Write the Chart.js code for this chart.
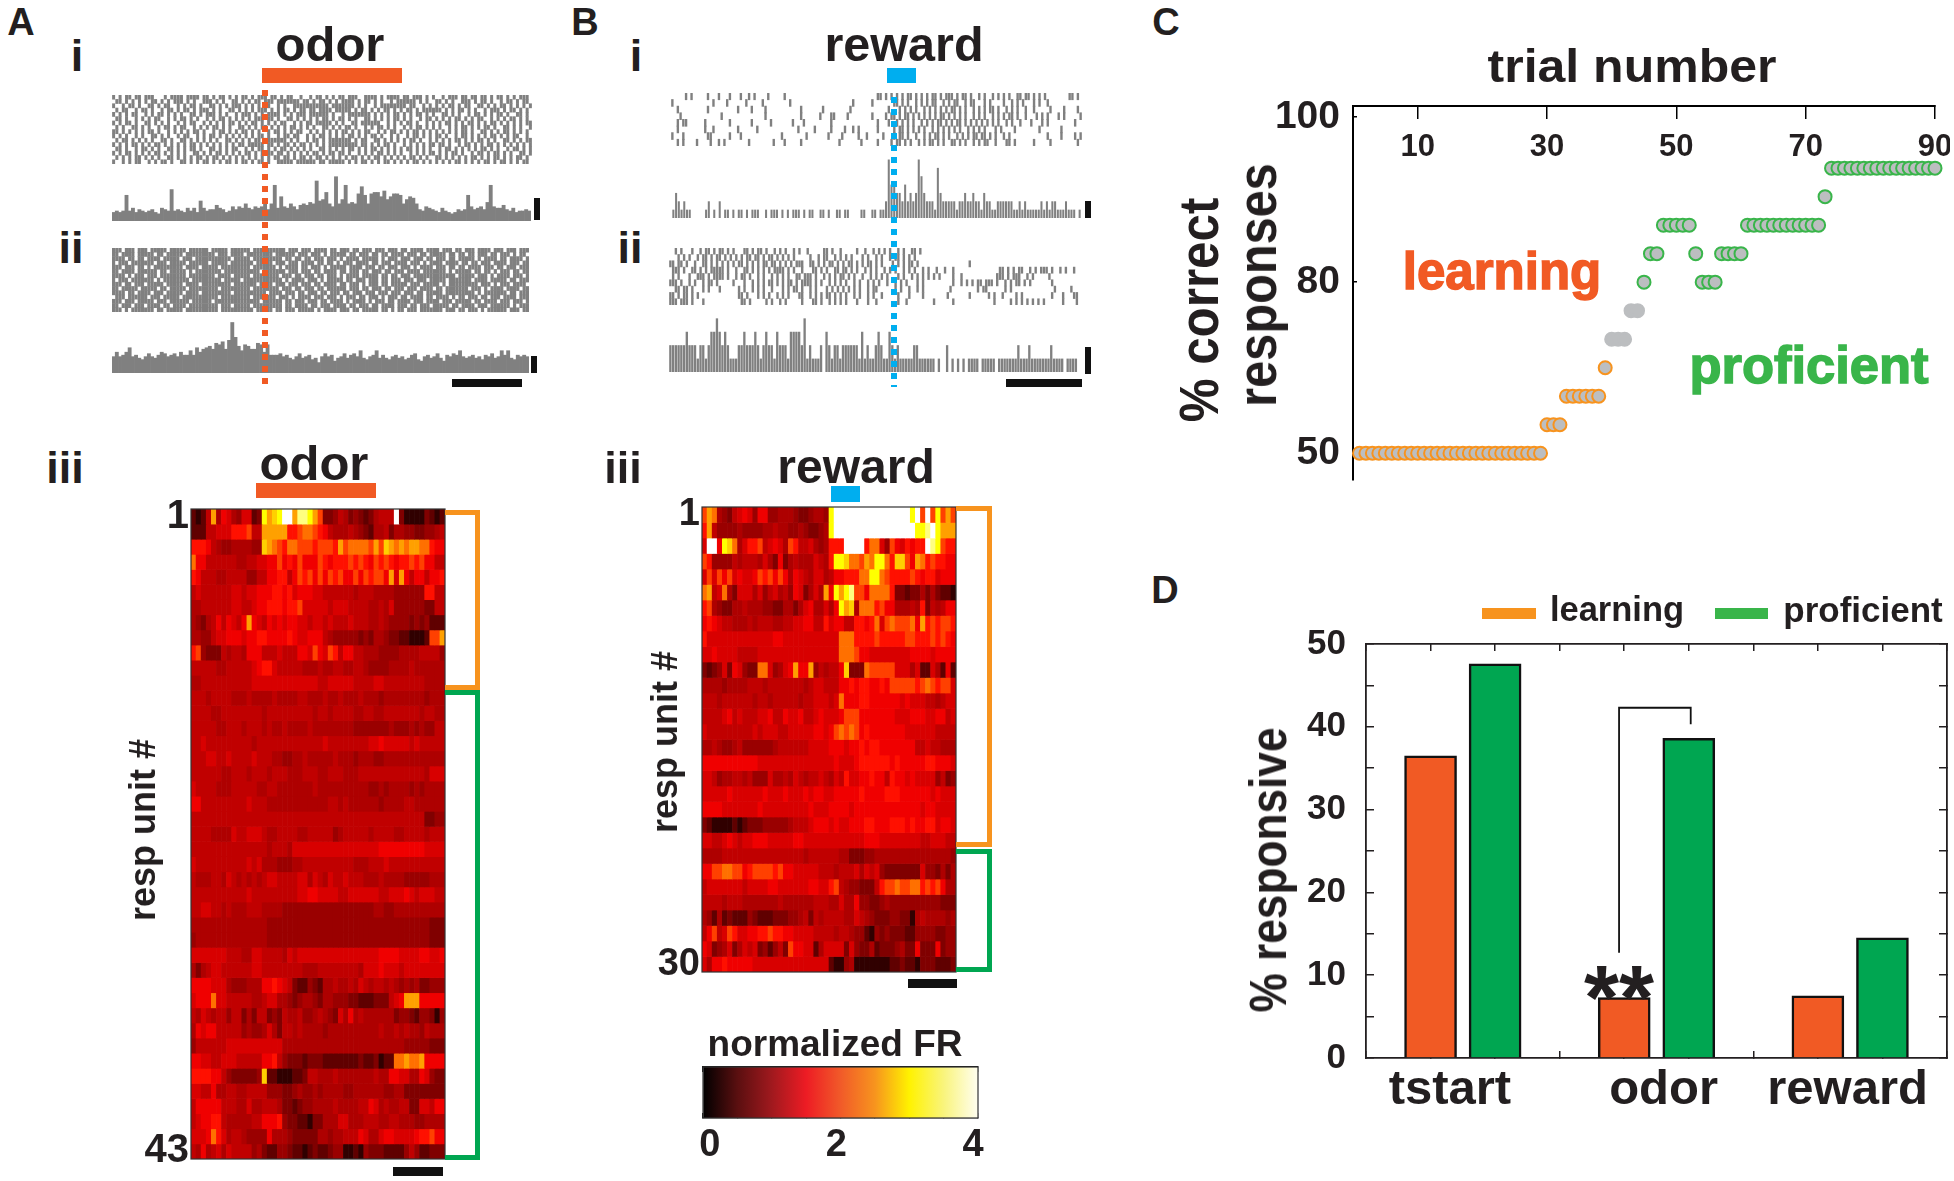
<!DOCTYPE html>
<html>
<head>
<meta charset="utf-8">
<title>Responses during learning</title>
<script src="https://cdn.jsdelivr.net/npm/chart.js@4/dist/chart.umd.min.js"></script>
<style>
  html, body { margin: 0; background: #fff; }
  #page { position: relative; width: 1954px; height: 1181px; overflow: hidden; }
  #page canvas { position: absolute; }
  .lbl { position: absolute; white-space: nowrap; line-height: 1; font-family: "Liberation Sans", Arial, sans-serif; font-weight: 700; color: #231f20; }
  .box { position: absolute; }
</style>
</head>
<body>
<div id="page"></div>
<script>
// ---- panel C: behaviour ----
const trialTicks = [10, 30, 50, 70, 90];
const pctTicks = [50, 80, 109];
const pctTickLabels = ['50', '80', '100'];
const learningTrials = [1,2,3,4,5,6,7,8,9,10,11,12,13,14,15,16,17,18,19,20,21,22,23,24,25,26,27,28,29,30,31,32,33,34,35,36,37,38,39];
const learningPct = [50,50,50,50,50,50,50,50,50,50,50,50,50,50,50,50,50,50,50,50,50,50,50,50,50,50,50,50,50,55,55,55,60,60,60,60,60,60,65];
const middleTrials = [40,41,42,43,44];
const middlePct = [70,70,70,75,75];
const proficientTrials = [45,46,47,48,49,50,51,52,53,54,55,56,57,58,59,60,61,62,63,64,65,66,67,68,69,70,71,72,73,74,75,76,77,78,79,80,81,82,83,84,85,86,87,88,89,90];
const proficientPct = [80,85,85,90,90,90,90,90,85,80,80,80,85,85,85,85,90,90,90,90,90,90,90,90,90,90,90,90,95,100,100,100,100,100,100,100,100,100,100,100,100,100,100,100,100,100];

// ---- panel D: % responsive ----
const barSlotsOrange = [1, 4, 7];
const barSlotsGreen = [2, 5, 8];
const learningResp = [36.5, 7.3, 7.5];
const proficientResp = [47.6, 38.6, 14.5];
const epochNames = ['tstart', 'odor', 'reward'];
const epochLabelSlots = [1.3, 4.61, 7.46];
const sigBracketX = [3.92, 3.92, 5.03, 5.03];
const sigBracketY = [12.7, 42.3, 42.3, 40.3];

// ---- heat maps: one char per bin, 0..g = normalized FR in 0.25 steps ----
const heatColors = ['#000000','#300000','#600000','#800000','#9a0000','#ae0000','#c00000','#d80000','#f00000','#ff1000','#ff4000','#ff7000','#ffa000','#ffd000','#ffff00','#ffff80','#ffffff'];
const odorHeat = [
"2126c58754 7723ecdegg cffeca3346 5343235666 g311113212",
"2226677799 9a66ccccc9 9abba98655 5654325563 5544334456",
"9998654455 5544dcba9b baaa9aaa9c abbbbacadc bcbccbb988",
"b886666665 5667788a89 8a888a9899 9a9a98a9a9 899a9a8866",
"9866655666 6446688996 8a9a8a8a9a 88a8a9aa8c 7c86886889",
"6766666677 6778889989 7888776666 6656665555 4444449966",
"5566666677 6678899989 9a77777677 7666655657 4444443366",
"5435686876 8c87687878 8776776766 6766655654 4443434222",
"5544677888 7889988889 8778886544 4443435543 3221112aac",
"9a43336566 5888666766 6887a87a96 8866555444 4555566664",
"6666655666 6678997666 6655565566 5566544445 5556555555",
"5566666666 6677777777 7777766777 7766667766 6666665555",
"6665666655 5655556555 5665556556 5556555455 5555554555",
"6666556666 6666566666 6666566566 6655665566 6666656655",
"6666655666 5666565565 5556555555 5544444445 4445454466",
"6676666666 6656666666 6666667666 6666677877 7776766666",
"6667766766 6676665544 5565555565 5545554455 5555555555",
"6666665566 6566656665 5566655666 5556666666 6666665777",
"7666655566 6665566555 5555655555 5555544545 5554545555",
"8866666666 6766655555 5555555665 6555555455 5566555555",
"6666666666 6666666666 6666666666 6666666666 6666663344",
"6666555576 6777655666 6556666645 6666656666 5566665666",
"6666666666 6666656665 7777777777 7777777888 8888887777",
"7666666666 6767555444 5566666666 6655566676 6666666666",
"6555665765 6565677666 6775765766 7666555655 5544444555",
"6666666666 6766666666 6778877776 6777777667 7787677766",
"6677665655 5666555544 4444444444 4444445544 5555555555",
"5555555555 5555544444 4444444444 4444444444 4444444333",
"4555555555 5555544444 4444444444 4444444444 4444444333",
"7777777666 5577666657 6777777777 7777777888 8777788778",
"5356776666 6677666666 6655566666 6665777877 7677777777",
"8888777544 4555889876 3224325565 5657656656 5454533444",
"7888b77666 6655677554 3455435544 4332223336 78ccc88888",
"6576566466 3536634365 5644565437 5856555555 3443244314",
"5878866666 4544575366 5655554555 5555555655 6565546555",
"4666666777 7777777755 5555555555 5555555555 5544444333",
"8877667776 6666889643 3323332222 2223223122 bbcbbc8888",
"9999886433 3334d22111 2236655565 5555556558 8775587433",
"7766855665 5666644433 4544545555 4455555544 5533333333",
"6888886665 5755666533 2344555565 5556687565 5663377688",
"6788996555 5566888943 3221335557 7555666556 6555445555",
"7778b97566 5444485554 3333355455 6668755788 7777899a88",
"6585675766 6645322443 2212322344 1121433322 2246422333"
];
const rewardHeat = [
"acb5436787 4884455543 34554egggg gggggggggg gegagaeaca",
"9c64444544 4455655445 43345egggg gggggggggg ggeefgeccc",
"7gg8edb579 9a67875a96 67545999gg gg9bb74a87 9899gfea99",
"a944446566 6575383565 557659eedb bacbeeb9dd a8cb9a9988",
"7a7a8a7877 8a9a8a8587 6577568899 9bbeeba999 9a98997888",
"bc67b53777 5746756487 3575c8ecef aa8bbbb933 2335353221",
"9a54335565 5544335535 7855758ecd 5bbb9a8855 5659365688",
"8987665556 5666556677 8866978866 9989b7abaa ab8c9a9aa9",
"9777777777 7777887777 7777777bbb 9999a99999 aa999a9a98",
"7787777666 6777777777 7777777bbb a887777777 7888878888",
"3234738743 3bb74578c8 8c465668d3 33baaaaa77 7572275282",
"5555455556 6656666666 5677666889 8998898aaa aa9aba9aa7",
"6665666666 5665666665 6677767b88 8998888887 8777665677",
"6666786766 6778668778 66787778aa a888888877 7888778867",
"7666666666 7677766777 778878abab a898888888 7777776666",
"5565445644 4444566666 6777788878 8989988888 8866766555",
"8888888888 8777777777 7777778777 8999999898 8888998887",
"7764556656 4447556576 5667657697 7889886988 7877774634",
"7777787777 7787778777 8788778888 8988889998 8888878777",
"8888777777 7877777777 7877788887 8888888888 8887887777",
"3211112123 3344444566 6788878778 8899888999 8988997887",
"7766787677 8887777788 7777777777 7788877777 7776677766",
"5555666666 6666666666 5666666553 3344555555 5555555554",
"88aabbaa89 aaaa9a8877 7776665666 7576743333 3337443535",
"6777777767 7778877777 788779a654 433369aaba abb9a9a855",
"6666566655 5555565555 5566655755 8443345444 4444444333",
"5425232224 3222333445 6365666655 7654333443 3156555545",
"68a67a9778 899a998877 7766665665 4421434333 2244443344",
"8734573576 7342463a88 7725777737 4335233345 3383338344",
"7588988888 7777777777 7777721145 1111111223 2213332223"
];
const odorUnitTicks = [0.5, 42.5];
const odorUnitLabels = ['1', '43'];
const rewardUnitTicks = [0.5, 29.5];
const rewardUnitLabels = ['1', '30'];
const colorbarStops = ['#000000','#5a0f10','#a0191e','#ed1c24','#f15a29','#f7941e','#fff200','#f9f47c','#fffef0'];
const colorbarLabelAt = [0.1, 1.94, 3.93];
const colorbarLabels = ['0', '2', '4'];

// ---- raster plots: one row per trial, # = a spike in that time bin ----
const odorRasterI = [
"#.#.##.##. ###...#.## ##.####.## .#.##.#.#. ##.#.###.# #.#.##..#. .#.##.#.#. ##.###..## ##.#.####. ##.###.#.# ..#.###.## .##.##.#.# #.#.#.###.",
".##.#.#.#. #.##.#.#.# ##.#.#..## #.#.#..##. #.#.##.### .#######.# #.#.##.#.# .####.#.## .#.#..#.## ####.#.#.. ##.#.#..## #.#.##.#.. #.##.#.##.",
"#..#.##.#. .##.#.##.. #.#.##.#.. ##.#.#.### .#.#.#.##. .#.#..#### #######.## #####.#.#. .#.####### #.##..#.#. #.#.##.#.# #..##.#.#. ##.#.#.#.#",
".#.##..#.# #.#..#.##. #.##.#.### .#.#..##.# .#.#.###.# .#.##.#.## .##.####.# ####.#.##. #.#.##.#.# .##.#.#### ##.#.#.##. #.#..#.### .#.##.#.#.",
"#.#.#.##.. #.#.##.#.# .#..##.#.# ##.#.#..#. ###.#.#.## ##.#.#.### .######.#. .#.####### .#.#.#.##. #.#.##.#.# ..##.#.#.. #.##.#.#.# #.#..##.#.",
".##.#..#.# .#.##..#.# .##.#.#..# .#.##.#.#. #.#.###.## .#..##.#.# .#.#.##.#. ##.#.#..## .#.#.#.##. #.#..#.##. #.#.#.##.# .#.##..#.# .#.##.#.#.",
"#.#.##.#.. ##.#.#.#.. #.#.##..#. #.#.#.##.# .#.##.#.#. #.##..#.#. ##.#####.# .#..##.### ###..#.#.# .##.#..#.# .#.##.#.#. ##.#.#.##. #.#.#.#.##",
".#.#..##.# .#..#.##.# .##..#.#.# .##.#.#..# #.#.#.##.# .#.#.##.#. #.#..##.#. #.##.#..#. #.##.#.#.. #.#.##.#.# .#..#.#.## .#.#.##.#. .##.#.#..#",
"##.#.#.#.# .##.#..#.# .#.#.##.#. .#.##.#.#. ##.#.#..#. ##.#.#.##. .#.#.#.#.# .##.#.#.## ..#.#.##.# .#.##.#.#. #.#.#.#.## .#..##.#.# .##.#.#.#.",
"#.#.#..#.# ..##.#.#.. #.##..#.#. ##.#.#.#.# .#.#.##.#. .#.##.##.. #.#.##.#.# .#.##.#.#. ##.#..#.#. .#.##.#.#. ##.#..#.## .#.#.#.##. #.#.##..#.",
".#.##.#.#. #.#..##.#. .##.#.#.#. #.#..##.#. #.#.##.### ####.#.#.. #.##.#.### ####.#.##. .##.#.#.#. #.##.#..#. #.#.#.##.# .#.##.#.#. .##.#.#.##",
"#.#.#.##.# .#.##.#.#. #.#.##.#.# .#.#.#.#.# #.#####.## .#.##.#.## .#.#.#.### ######.##. #.#.##.#.. #.#.#.#.## .##.#..#.# #.#.#.##.# .#.#.#.#.#",
".##.#..#.# #.#.#..##. #.#.##.#.. ##.#.#.##. .#.#.##.#. #.##.#.#.# .#..##.#.# .#.##.#.#. ##.#.#.#.# .##.#.#.#. .#.##.#.#. #.#.##.#.# ..#.##.#.#",
"#.#.##.#.# .#.##.#.#. #.#..##.#. #.##.#.#.# .##.#.#.## .##.#.#.#. #.##.#.##. ##.#..#.#. #.##.#.#.# ..#.#.#.## .#.#.##.#. .#.##.#.## .#.#..##.#",
".#.#.#.##. #.#.#..##. #.#.#.##.# .##.#.#.#. #.#.#.#.#. ##.##.#.## .#.##.#.#. #.#.##.#.# .##.#.#.#. #.##.#.#.. ##.#.#.#.# .##.#.#.## .#.#.##.#.",
"#..#.#.##. .#.#.##.#. .##.#.#.## .#.#.##.#. ##.#.##.#. .#####.### ###.##.### ##.#.#.##. #.#.##.#.# .#.##.#.#. #.#.#.##.# .#.#.##.#. ##.#.#.##."
];
const odorRasterII = [
"###.###.## #.#####.## ###.###### .#####.### ###.###### ####.###.# ##.####.## .###.##.## #.###.###. ##.####.## ##.###.##. ###.####.# ##.###.###",
"##.####.## ###.##.### ##.####### ##.###.### #.######## .######.## #.###.#.## ###.##.### .##.##.### #.###.##.# ####.##.## .##.###.## .###.#.##.",
"####.##.## .####.#### #.###.#### #######.## ###.###### ###.##.##. ##.###.### .#.####.## ###.#.###. ###.###.## .###.##.## ###.#.#### .##.####.#",
"#.###.#### ###.###.## ###.###### .#####.### ####.##### .###.###.# ###.##.##. #.###.#### .##.###.## ##.###.#.# ###.####.# #.##.###.# ###.###.##",
"###.###.## .#.####### ##.####.## ###.###### ###.###### #.#.####.# #.###.#.## ###.####.# ##.##.###. ###.#.#### .###.##.## .####.###. ##.###.###",
"##.####.## ####.##.## ###.#.#### ####.##### ######.### ####.###.# ##.##.#### .##.###.## .###.##.## #.####.### ####.#.### ##.##.##.# .###.##.##",
"####.#.### .###.##### ###.###### ##.####.## ###.###### ##.###.##. ###.##.### .#.####.## ###.##.##. ###.###### #######.## ###.###.#. ####.###.#",
"#.###.#### ###.#.#### ####.##### ####.##### .######### ###.#.#### .###.#.### ##.##.###. ###.##.### .###.###.# ####.##### ##.####.## ###.##.###",
"###.##.### .#####.### ##.####.## #######.## #####.#### .###.###.# ##.##.#### .##.###.#. ###.##.### ##.###.### ##.#.##### ####.###.# .###.####.",
"##.#####.# ####.##.## ###.###### ###.###### ###.###### ##.###.##. ###.##.### ###.###.## .###.##.## #.###.#### .##.###### #.###.#.## ##.####.##",
"####.##.## ##.###.### ##.####.## #######.## ########.# ###.###.## .###.##.## #.##.###.# ##.###.### .###.##.## ###.###### ###.#.#### ###.##.###",
".###.##### #.###.#### #.######## ###.###### ###.###### #.###.#.## ##.###.### .#.###.##. ###.#.###. ##.####.## .####.#.## .###.##.## #.####.###",
"###.###.## ###.###.## ####.##### #.######## ######.### ###.##.### .###.##.## ##.#.####. #.###.##.# ###.###.## ##.###.### ##.##.#### .###.###.#",
"##.###.### .####.##.# ###.###### ###.###.## ###.###### ###.##.### #.##.###.# ###.##.### .##.####.# ##.##.###. #####.##.# ###.###.## ####.#.###",
"###.#.#### ###.##.### ##.####### ###.###### ####.##### .##.###.## ###.#.#### .###.##.## ###.##.#.# #.###.#### ###.###.## .###.#.#### ##.###.###"
];
const rewardRasterI = [
".....#.#.. ...#...#.. .#...#..#. #....#.... .#........ .......... .......... .....##.#. #.#.#.##.# .#.#.##.#. ###.#.##.# ..#.#..#.# .#.#..##.# #.#.#.#... .....##.#.",
"#......... .....#.... #......#.. ...#...... ...#...... .......... ......#... ...#...... .##.#.#..# .#.#.##..# .#.##..#.# #...#.#... .#..#.#.#. ..#.#..#.. ..........",
"..#....... ...#...... ....#....# ....#..... .......#.. .....#.... .....#.... .........# ...#.#.#.# ..#.#.#.#. #.##.#.#.. #.#.#.##.# ..#.#.#..# ..#.....#. ...#....#.",
"...#...... ........#. .......... ....#..... .......#.. ....#...## ....#..... ...#....#. ##.#.##.#. #.#.#.#.## .#.#.#.#.. #.#.#..#.# .#.##.#..# ...#.#.#.. .#.#.....#",
"..#.##.... ..#....... .#.......# ......#... ....#...#. ........#. .......... .....#...# ..#.#.#.#. .#.#.#.##. #.#.##.#.# .#.#.#.#.# ..#.#..#.. .#...#.#.. .......#..",
"..#....... ..#..#.... ....#..... .#........ ......#... ..#.....#. ...#..#.#. .....#.... .#.##.#.#. #.#..#.#.# .#.#.#..#. #.#.#...#. #....#.... ....#..... ..#.......",
"#...#..... ...##..... .#...#.... .......... #........# .......#.. ..#.....#. .#.....#.. .#.##.#..# ..#.#.##.# .#..#.#.#. ##.##.#.#. .#.#...... .......#.. ..#....#.#",
"..#.#....# ....#..#.# ........#. .......#.. .#.....#.. .......... .#.......# .....#.... #.##.#.#.. #.#.##.#.# ..##.#.#.. #.#.##..#. ..##.#.... ..#.....#. ........#."
];
const rewardRasterII = [
"..#.#...#. .#.##.#.## .#.#...##. #.##.#..#. #.#..#.#.. #.....##.# ..#.....#. .#..#.#.#. #..#.#..## .#........ .......... .......... .......... .......... ..........",
"...#.#.#.. #.##.#.##. #.#.#.#.## .##.#.##.# .#.#.#.... .#..#.##.. #.#.#.#... #.#..#.#.. #.##.#.#.# .......... .......... .......... .......... .......... ..........",
"##.##.#..# ..##.#.#.# .#.#.##.#. #.#.##.##. #.#.#.###. .##.#.#.## .#.#.##.#. #.##.#.#.. .#.#.#.##. #......... .........# .......... .......... .......... ..........",
".###.#..## .#.#.##### .#..#..##. #.#.#.#.## ##.#.#..#. ..##.#.#.. ##.##.#.#. .#.#.#..#. #.#..#.#.# ..#.#..#.. #..#...... .......... ##.#.#.##. .#.#.###.# ..#.#..#..",
".#.#...#.. ###.#.#### .#..#.##.# ..#.#..#.# .#.#..##.# ##.#..#.#. #.##.#.#.. #..#.#.#.# ...#.#..#. #.#.#.#.#. ...#..#... .........# ##.#.###.. #.#.....#. ..........",
"###.#..#.# ..#.##.#.. ...#...#.. #.#.#.##.# .#.##.#.## ##.#.#..#. #.#.#..#.# ..#.#.#..# ..#.#.#... #.#....... ...#..#.#. #.##.###.# ..#.#.##.# .#.......# ..........",
"..##.##.#. ..#.#...#. .....#.#.. #.#.#..#.. .#.#.##.#. .#.#...#.# .#.#.#.#.# ..#.##.... ..#.#..#.. #.#....... ..#....... ..#.##.... ..#.#..... .......... #.....#...",
"##.#.##.#. #......... .....##.#. ..#.#.#..# .#.#...##. .#.#.#.##. #.#.#..#.# ..#.#..#.. ...#...#.. ..#....... .#.......# ......#.#. .#....#.#. .........# ...#...##.",
"###.###.#. ..#....... ......##.# .....#.#.. #.#.....#. ..##.#..#. #.#.#...#. ..#..#.... ...#..#... ......#... ...#...... ........#. ....#.#.#. #.#.#.#... ...#....#."
];

// ---- PSTHs below the rasters: one base-36 char per time bin ----
const odorHistI = "6767i79687 67865987m7 8769796e97 88b9867a8a 9c98a9af8c p9ha9ca8bc bdcsefkcav cfpcdcjoic jkkhlfhjji cfhgc87a98 7697656878 ia89a8dpa9 9b87967787";
const odorHistII = "bebcehbca9 bdbacedbcd beccfchegh igkjlgmyoi fjiggkjejc ccdbca9bda bc9a7bdbc8 abdacdbfa9 bcfaca9bca b9acd98bca bda8cbdcfb abcab9cbda bfcfa9cbcb";
const rewardHistI = "1321211000 0012010201 1010110101 1100101110 1010111010 1100110100 1101100001 1001101127 4433242323 7532221632 2222122322 3221322112 2222211212 1111121212 2111211101";
const rewardHistII = "2222223222 1221233432 3211122322 2321232213 2221333324 1211120321 2212222221 3121123211 3212111112 2111111010 0201010101 1110111110 1111111211 1211111112 1111011110";

const font = '"Liberation Sans", Arial, sans-serif';
const ink = '#231f20';
const red = '#f15a24', blue = '#00aeef', amber = '#f7931e', green = '#00a651', lime = '#39b54a', grey = '#808080';
Chart.defaults.font.family = font;
Chart.defaults.font.weight = 'bold';
Chart.defaults.color = ink;
Chart.defaults.animation = false;
Chart.defaults.layout.autoPadding = false;
Chart.defaults.plugins.legend.display = false;
Chart.defaults.plugins.tooltip.enabled = false;

const page = document.getElementById('page');

function addCanvas(x, y, w, h) {
    const c = document.createElement('canvas');
    c.width = w; c.height = h;
    c.style.left = x + 'px'; c.style.top = y + 'px';
    page.appendChild(c);
    return c;
}
function rect(x, y, w, h, color) {
    const d = document.createElement('div');
    d.className = 'box';
    d.style.cssText = `left:${x}px;top:${y}px;width:${w}px;height:${h}px;background:${color};`;
    page.appendChild(d);
    return d;
}
function dotted(x, y0, y1, color) {
    const d = rect(x, y0, 6, y1 - y0, 'transparent');
    d.style.background = `repeating-linear-gradient(to bottom, ${color} 0 6px, transparent 6px 12px)`;
    d.style.zIndex = 5;
}
function bracket(x, y, w, h, color) {
    const d = rect(x, y, w, h, 'transparent');
    d.style.boxSizing = 'border-box';
    d.style.borderStyle = 'solid';
    d.style.borderColor = color;
    d.style.borderWidth = '5px 5px 5px 0';
}
// cx,cy = middle of the text box
function label(text, cx, cy, size, opt) {
    const o = opt || {};
    const s = document.createElement('span');
    s.className = 'lbl';
    s.textContent = text;
    s.style.left = cx + 'px'; s.style.top = cy + 'px';
    s.style.fontSize = size + 'px';
    if (o.color) s.style.color = o.color;
    if (o.stroke) s.style.webkitTextStroke = o.stroke + 'px ' + (o.color || ink);
    s.style.transform = `translate(-50%,-50%) rotate(${o.rot || 0}deg) scale(${o.sx || 1},${o.sy || 1})`;
    s.style.zIndex = 6;
    page.appendChild(s);
}
// fixed axis sizes so the plot areas land where they should; tick labels must not add margins
function noMargins(scale) {
    scale.paddingTop = scale.paddingBottom = scale.paddingLeft = scale.paddingRight = 0;
}
const fixWidth = w => scale => { scale.width = w; noMargins(scale); };
const fixHeight = h => scale => { scale.height = h; noMargins(scale); };

// ===== RASTERS =====
function rasterChart(x, y, w, h, rows, cols, tickHalf, tickW) {
    const pts = [];
    rows.forEach((row, r) => {
        [...row.replace(/ /g, '')].forEach((ch, i) => { if (ch === '#') pts.push({ x: i, y: r }); });
    });
    const c = addCanvas(x, y, w, h);
    c.style.filter = 'blur(0.7px)';
    new Chart(c, {
        type: 'scatter',
        data: { datasets: [{ data: pts, pointStyle: 'line', rotation: 90, pointRadius: tickHalf, pointBorderWidth: tickW, pointBorderColor: grey }] },
        options: {
            responsive: false,
            scales: {
                x: { display: false, min: -0.5, max: cols - 0.5 },
                y: { display: false, reverse: true, min: -0.5, max: rows.length - 0.5 }
            }
        }
    });
}
rasterChart(112, 95, 420, 69, odorRasterI, 130, 2.4, 3);
rasterChart(112, 248, 417, 64, odorRasterII, 130, 2.4, 3.2);
rasterChart(671, 93, 411, 53, rewardRasterI, 150, 3.8, 2.4);
rasterChart(669, 248, 412, 57, rewardRasterII, 150, 3.4, 2.4);

// ===== PSTHs =====
function histChart(x, y, w, h, text, top, pct) {
    const vals = [...text.replace(/ /g, '')].map(ch => parseInt(ch, 36));
    const c = addCanvas(x, y, w, h);
    c.style.filter = 'blur(0.4px)';
    new Chart(c, {
        type: 'bar',
        data: { labels: vals.map((v, i) => i), datasets: [{ data: vals, backgroundColor: grey, barPercentage: pct, categoryPercentage: 1 }] },
        options: {
            responsive: false,
            scales: { x: { display: false }, y: { display: false, min: 0, max: top } }
        }
    });
}
histChart(112, 171, 419, 50, odorHistI, 35, 1);
histChart(112, 321, 417, 52, odorHistII, 35, 1);
histChart(672, 157, 409, 61, rewardHistI, 7.3, 0.75);
histChart(669, 317, 411, 55, rewardHistII, 4.1, 0.85);

// ===== HEAT MAPS =====
const framePlugin = {
    id: 'frame',
    afterDatasetsDraw(chart) {
        const a = chart.chartArea, ctx = chart.ctx;
        ctx.save();
        ctx.strokeStyle = '#333';
        ctx.lineWidth = 1.2;
        ctx.strokeRect(a.left, a.top, a.right - a.left, a.bottom - a.top);
        ctx.restore();
    }
};
function heatChart(x, y, w, h, rows, unitTicks, unitLabels, tickFont) {
    const cells = rows.map(r => [...r.replace(/ /g, '')]);
    const c = addCanvas(x - 60, y - 20, w + 62, h + 40);
    new Chart(c, {
        type: 'bar',
        data: {
            labels: cells[0].map((v, i) => i + 1),
            datasets: cells.map(row => ({
                data: row.map(() => 1),
                backgroundColor: row.map(ch => heatColors[parseInt(ch, 36)]),
                barPercentage: 1,
                categoryPercentage: 1
            }))
        },
        options: {
            responsive: false,
            layout: { padding: { top: 20, bottom: 20, right: 2 } },
            scales: {
                x: { display: false, stacked: true },
                y: {
                    stacked: true, reverse: true, min: 0, max: rows.length,
                    grid: { display: false }, border: { display: false },
                    afterBuildTicks: s => { s.ticks = unitTicks.map(v => ({ value: v })); },
                    afterFit: fixWidth(60),
                    ticks: { autoSkip: false, padding: -6, font: { size: tickFont, weight: 'bold' }, callback: v => unitLabels[unitTicks.indexOf(v)] }
                }
            }
        },
        plugins: [framePlugin]
    });
}
heatChart(191, 509, 254, 650, odorHeat, odorUnitTicks, odorUnitLabels, 40);
heatChart(702, 507, 254, 465, rewardHeat, rewardUnitTicks, rewardUnitLabels, 38);

// ===== COLOUR BAR =====
const barTickAxis = {
    min: 0, max: 4, z: 1,
    grid: { drawOnChartArea: false, tickLength: -5, tickColor: '#111', lineWidth: 1.2 },
    border: { color: '#111', width: 1.2 },
    ticks: { stepSize: 0.5, display: false }
};
new Chart(addCanvas(683, 1060, 312, 103), {
    type: 'bar',
    data: {
        labels: [''],
        datasets: [{
            data: [[0, 4]],
            barPercentage: 1,
            categoryPercentage: 1,
            backgroundColor: ctx => {
                const a = ctx.chart.chartArea;
                if (!a) return '#000';
                const g = ctx.chart.ctx.createLinearGradient(a.left, 0, a.right, 0);
                colorbarStops.forEach((col, i) => g.addColorStop(i / (colorbarStops.length - 1), col));
                return g;
            }
        }]
    },
    options: {
        indexAxis: 'y',
        responsive: false,
        layout: { padding: { left: 20, right: 17, top: 7 } },
        scales: {
            y: { display: false },
            x: { ...barTickAxis, position: 'bottom', weight: 0, afterFit: fixHeight(0) },
            xNames: {
                min: 0, max: 4, position: 'bottom', weight: 1, afterFit: fixHeight(45),
                grid: { display: false }, border: { display: false },
                afterBuildTicks: s => { s.ticks = colorbarLabelAt.map(v => ({ value: v })); },
                ticks: { autoSkip: false, maxRotation: 0, padding: -3, font: { size: 38, weight: 'bold' }, callback: v => colorbarLabels[colorbarLabelAt.indexOf(v)] }
            },
            xTop: { ...barTickAxis, position: 'top', afterFit: fixHeight(0) }
        }
    },
    plugins: [framePlugin]
});

// ===== PANEL C =====
const toPoints = (xs, ys) => xs.map((v, i) => ({ x: v, y: ys[i] }));
new Chart(addCanvas(1263, 86, 687, 399), {
    type: 'scatter',
    data: {
        datasets: [
            { data: toPoints(learningTrials, learningPct), pointBorderColor: amber },
            { data: toPoints(middleTrials, middlePct), pointBorderColor: '#bcbec0' },
            { data: toPoints(proficientTrials, proficientPct), pointBorderColor: lime }
        ].map(d => Object.assign(d, { pointRadius: 6.5, pointBorderWidth: 2, pointBackgroundColor: '#bcbec0', clip: false }))
    },
    options: {
        responsive: false,
        layout: { padding: { top: 20, right: 15, bottom: 5 } },
        scales: {
            x: {
                position: 'top', min: 0, max: 90,
                afterBuildTicks: s => { s.ticks = trialTicks.map(v => ({ value: v })); },
                afterFit: fixHeight(0),
                grid: { drawOnChartArea: false, tickLength: -13, tickColor: '#000', lineWidth: 1.5 },
                border: { color: '#000', width: 2 },
                ticks: { display: false }
            },
            // trial numbers hang inside the plot, under the top axis
            xNumbers: {
                type: 'linear', axis: 'x', position: { y: 110.9 }, min: 0, max: 90,
                afterBuildTicks: s => { s.ticks = trialTicks.map(v => ({ value: v })); },
                afterFit: fixHeight(0),
                grid: { display: false }, border: { display: false },
                ticks: { autoSkip: false, maxRotation: 0, padding: 15, font: { size: 31, weight: 'bold' } }
            },
            y: {
                min: 45.3, max: 110.9,
                afterBuildTicks: s => { s.ticks = pctTicks.map(v => ({ value: v })); },
                afterFit: fixWidth(90),
                grid: { drawOnChartArea: false, tickLength: -4, tickColor: '#000', lineWidth: 1.5 },
                border: { color: '#000', width: 2 },
                ticks: { autoSkip: false, padding: 17, font: { size: 39, weight: 'bold' }, callback: v => pctTickLabels[pctTicks.indexOf(v)] }
            }
        }
    }
});

// ===== PANEL D =====
const frameGrid = { drawOnChartArea: false, tickColor: ink, lineWidth: 1.5 };
const frameBorder = { color: ink, width: 1.8 };
new Chart(addCanvas(1296, 624, 658, 494), {
    data: {
        datasets: [
            { type: 'bar', data: toPoints(barSlotsOrange, learningResp), backgroundColor: red, borderColor: '#111', borderWidth: 2.5, barThickness: 52, grouped: false },
            { type: 'bar', data: toPoints(barSlotsGreen, proficientResp), backgroundColor: green, borderColor: '#111', borderWidth: 2.5, barThickness: 52, grouped: false },
            { type: 'line', data: toPoints(sigBracketX, sigBracketY), borderColor: '#111', borderWidth: 1.8, pointRadius: 0, tension: 0, fill: false }
        ]
    },
    options: {
        responsive: false,
        layout: { padding: { top: 20, right: 7 } },
        scales: {
            x: {
                type: 'linear', position: 'bottom', min: 0, max: 9, weight: 0, offset: false, afterFit: fixHeight(0),
                grid: { ...frameGrid, offset: false, tickLength: -7 }, border: frameBorder,
                ticks: { stepSize: 1, display: false }
            },
            xNames: {
                type: 'linear', position: 'bottom', min: 0, max: 9, weight: 1, offset: false, afterFit: fixHeight(60),
                grid: { display: false }, border: { display: false },
                afterBuildTicks: s => { s.ticks = epochLabelSlots.map(v => ({ value: v })); },
                ticks: { autoSkip: false, maxRotation: 0, padding: -5, font: { size: 49, weight: 'bold' }, callback: v => epochNames[epochLabelSlots.indexOf(v)] }
            },
            xTop: {
                type: 'linear', position: 'top', min: 0, max: 9, offset: false, afterFit: fixHeight(0),
                grid: { ...frameGrid, offset: false, tickLength: -7 }, border: frameBorder,
                ticks: { stepSize: 1, display: false }
            },
            y: {
                min: 0, max: 50, afterFit: fixWidth(70),
                grid: { ...frameGrid, tickLength: -8 }, border: frameBorder,
                ticks: { stepSize: 5, autoSkip: false, padding: 28, font: { size: 35, weight: 'bold' }, callback: v => (v % 10 === 0 ? v : '') }
            },
            yRight: {
                position: 'right', min: 0, max: 50, afterFit: fixWidth(0),
                grid: { ...frameGrid, tickLength: -8 }, border: frameBorder,
                ticks: { stepSize: 5, display: false }
            }
        }
    }
});

// ===== STIMULUS BARS, SCALE BARS, BRACKETS =====
rect(262, 68, 140, 15, red);
rect(887, 68, 29, 15, blue);
rect(256, 483, 120, 15, red);
rect(831, 486, 29, 16, blue);
dotted(262, 90, 390, red);
dotted(891, 97, 387, blue);
rect(534, 198, 6, 22, '#111');
rect(531, 356, 6, 17, '#111');
rect(452, 379, 70, 8, '#111');
rect(1085, 201, 6, 17, '#111');
rect(1085, 347, 6, 27, '#111');
rect(1006, 379, 76, 8, '#111');
rect(393, 1167, 50, 9, '#111');
rect(908, 979, 49, 9, '#111');
bracket(445, 510, 35, 180, amber);
bracket(445, 690, 35, 470, green);
bracket(956, 506, 36, 341, amber);
bracket(956, 849, 36, 123, green);
rect(1482, 608, 54, 11, amber);
rect(1715, 608, 53, 11, lime);

// ===== TEXT =====
label('A', 21, 22, 38);
label('B', 585, 22, 38);
label('C', 1166, 22, 38);
label('D', 1165, 590, 38);
label('i', 77, 55, 45);
label('ii', 71, 247, 45);
label('iii', 65, 467, 45);
label('i', 636, 55, 45);
label('ii', 630, 247, 45);
label('iii', 623, 467, 45);
label('odor', 330, 44, 49);
label('reward', 904, 44, 48.5);
label('odor', 314, 463, 49);
label('reward', 856, 467, 48);
label('resp unit #', 143, 830, 36, { rot: -90 });
label('resp unit #', 665, 742, 36, { rot: -90 });
label('normalized FR', 835, 1043, 37);
label('trial number', 1632, 66, 50, { sy: 0.93 });
label('% correct', 1199, 310, 56, { rot: -90, sx: 0.88 });
label('responses', 1257, 285, 56, { rot: -90, sx: 0.87 });
label('learning', 1502, 271, 51, { color: red, stroke: 1.5 });
label('proficient', 1809, 365, 52.5, { color: lime, stroke: 1.5 });
label('learning', 1617, 609, 34.5);
label('proficient', 1863, 609, 35);
label('% responsive', 1268, 870, 52, { rot: -90, sx: 0.85 });
label('**', 1619, 998, 90);
</script>
</body>
</html>
